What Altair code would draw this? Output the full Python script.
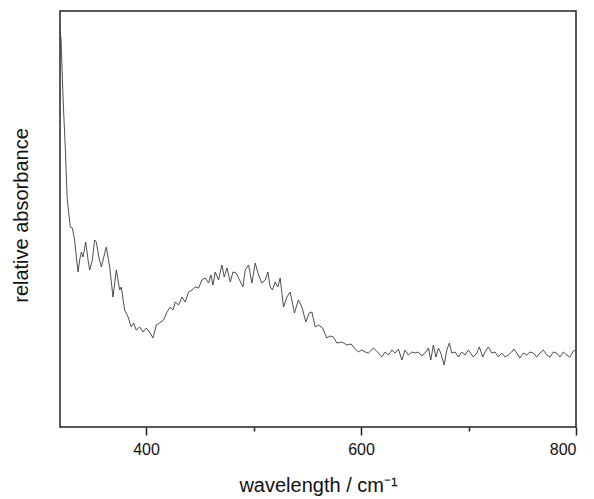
import altair as alt
import pandas as pd

# Absorption spectrum: wavelength (cm^-1 as labelled) and relative absorbance
wavelength = [
    320.0, 321.0, 322.9, 325.0, 326.6, 327.5, 329.6, 331.5, 333.6, 335.2,
    336.8, 338.3, 339.9, 341.4, 343.9, 346.1, 347.6, 350.1, 352.2, 353.8,
    356.3, 358.5, 360.0, 363.1, 366.2, 369.3, 372.4, 375.5, 377.0, 380.1,
    383.3, 386.3, 388.5, 391.0, 394.1, 397.2, 400.3, 403.3, 406.5, 409.6,
    412.6, 416.4, 419.5, 422.6, 425.1, 427.2, 430.3, 433.5, 436.5, 439.6,
    442.8, 445.8, 448.9, 452.1, 455.1, 458.2, 460.4, 462.3, 464.4, 467.5,
    470.6, 472.8, 475.3, 478.4, 480.9, 483.9, 487.0, 490.2, 492.3, 495.4,
    498.5, 501.6, 504.7, 507.8, 510.9, 513.4, 515.5, 517.7, 520.2, 522.7,
    524.8, 527.9, 531.1, 534.1, 538.1, 541.8, 545.0, 548.7, 551.8, 554.3,
    557.4, 560.4, 564.2, 568.2, 571.3, 574.4, 577.5, 582.2, 586.8, 590.8,
    593.9, 597.6, 600.8, 603.8, 606.9, 611.6, 616.2, 619.4, 622.4, 625.5,
    628.7, 631.7, 634.8, 638.0, 641.0, 644.1, 647.3, 650.3, 653.4, 656.5,
    659.6, 662.7, 664.9, 667.3, 669.8, 672.0, 674.2, 677.3, 679.8, 682.2,
    684.4, 687.5, 690.6, 693.7, 696.8, 699.9, 704.5, 707.7, 710.1, 713.2,
    715.4, 718.5, 721.6, 724.7, 727.7, 730.9, 734.0, 737.0, 740.2, 742.3,
    744.9, 747.9, 751.0, 754.1, 757.2, 760.3, 763.4, 766.5, 769.6, 772.7,
    775.8, 778.9, 782.0, 785.1, 788.2, 791.3, 794.4, 797.5, 800.0,
]
absorbance = [
    0.99, 0.9675, 0.8175, 0.6925, 0.575, 0.55, 0.50, 0.4975, 0.4675, 0.425,
    0.3875, 0.4175, 0.4375, 0.425, 0.4625, 0.4175, 0.3925, 0.4175, 0.4675, 0.4625,
    0.4225, 0.40, 0.4175, 0.45, 0.40, 0.325, 0.3925, 0.3425, 0.35, 0.2925,
    0.275, 0.25, 0.26, 0.2425, 0.25, 0.2375, 0.2475, 0.2375, 0.2225, 0.255,
    0.26, 0.2675, 0.2875, 0.30, 0.2925, 0.3125, 0.305, 0.325, 0.3125, 0.3375,
    0.3425, 0.35, 0.3475, 0.3675, 0.3725, 0.36, 0.38, 0.355, 0.3875, 0.3675,
    0.405, 0.375, 0.3975, 0.3625, 0.3875, 0.385, 0.3675, 0.35, 0.3925, 0.405,
    0.36, 0.41, 0.38, 0.36, 0.3675, 0.3875, 0.35, 0.3425, 0.3625, 0.35,
    0.3725, 0.30, 0.325, 0.3375, 0.285, 0.3175, 0.30, 0.2625, 0.285, 0.2875,
    0.25, 0.255, 0.2475, 0.2225, 0.2275, 0.225, 0.21, 0.2125, 0.205, 0.2075,
    0.1975, 0.1875, 0.1925, 0.1875, 0.185, 0.1975, 0.185, 0.175, 0.1875, 0.18,
    0.1925, 0.185, 0.195, 0.1675, 0.1925, 0.18, 0.1875, 0.185, 0.1875, 0.1775,
    0.185, 0.1975, 0.1675, 0.205, 0.175, 0.1975, 0.185, 0.155, 0.1925, 0.21,
    0.185, 0.1875, 0.175, 0.1875, 0.18, 0.1925, 0.175, 0.185, 0.20, 0.175,
    0.1875, 0.20, 0.185, 0.1875, 0.175, 0.185, 0.175, 0.18, 0.1875, 0.195,
    0.185, 0.1725, 0.185, 0.18, 0.1875, 0.185, 0.175, 0.185, 0.1925, 0.18,
    0.175, 0.1875, 0.185, 0.175, 0.1875, 0.18, 0.175, 0.19, 0.1925,
]

x_ticks = [400, 500, 600, 700, 800]

df = pd.DataFrame({"wavelength": wavelength, "absorbance": absorbance})

FONT = "Liberation Sans"

spectrum = alt.Chart(df).mark_line(
    color="#3a3a3a", strokeWidth=0.9, interpolate="linear"
).encode(
    x=alt.X(
        "wavelength:Q",
        scale=alt.Scale(domain=[320, 800], nice=False, zero=False),
        axis=alt.Axis(
            values=x_ticks,
            labelExpr="datum.value % 200 === 0 ? datum.label : ''",
            tickSize={"condition": {"test": "datum.value % 200 === 0", "value": 8}, "value": 4},
            tickColor="#222",
            tickWidth=1.5,
            domain=False,
            grid=False,
            labelFont=FONT,
            labelFontSize=16,
            labelColor="#111",
            labelPadding=6,
            title="wavelength / cm⁻¹",
            titleFont=FONT,
            titleFontSize=20,
            titleFontWeight="normal",
            titleColor="#111",
            titleBaseline="alphabetic",
            titleY=64,
        ),
    ),
    y=alt.Y(
        "absorbance:Q",
        scale=alt.Scale(domain=[0, 1.04], nice=False, zero=False),
        axis=alt.Axis(
            ticks=False,
            labels=False,
            domain=False,
            grid=False,
            title="relative absorbance",
            titleFont=FONT,
            titleFontSize=20,
            titleFontWeight="normal",
            titleColor="#111",
            titleBaseline="alphabetic",
            titleX=-33,
            titleY=204,
        ),
    ),
).properties(
    width=516,
    height=416,
    autosize=alt.AutoSizeParams(type="none"),
    padding={"left": 60, "top": 11, "right": 18, "bottom": 72},
).configure(
    background="white",
    view=alt.ViewConfig(stroke="#222", strokeWidth=1.5),
)

spectrum.save("out.html", embed_options={"renderer": "svg", "actions": False})
